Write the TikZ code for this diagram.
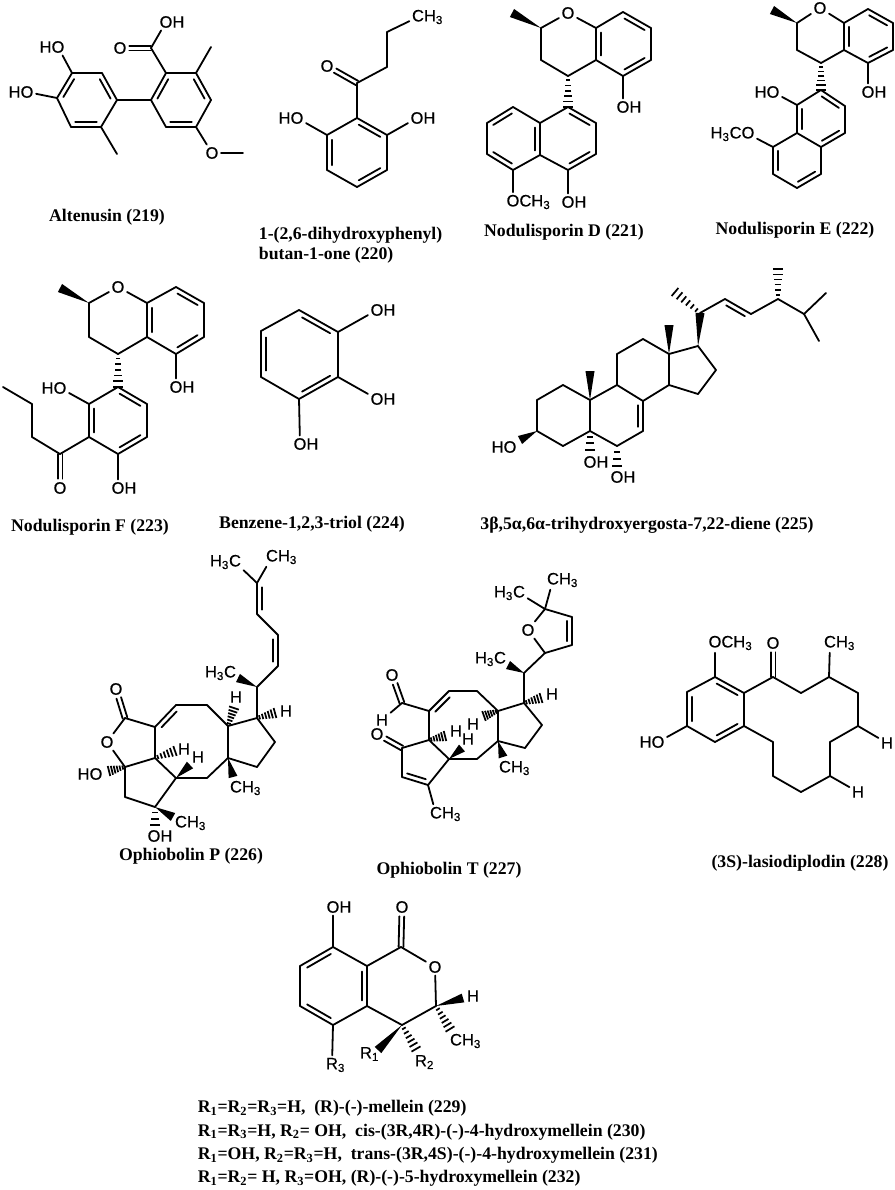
\documentclass[tikz,border=0pt]{standalone}
\usepackage{fontspec}
\setmainfont{Liberation Serif}
\newfontfamily\atomfamily[FakeBold=0.3]{Liberation Sans}
\usetikzlibrary{calc}

% atom labels, centred on their first atom
\newcommand{\lOH}{O\rlap{H}}
\newcommand{\lHO}{\llap{H}O}
\newcommand{\lCH}{C\rlap{H\textsubscript{3}}}
\newcommand{\lHC}{\llap{H\textsubscript{3}}C}
\newcommand{\lOCH}{O\rlap{CH\textsubscript{3}}}
\newcommand{\lHCO}{\llap{H\textsubscript{3}C}O}
\newcommand{\rs}[1]{R\textsubscript{#1}}

\newcommand{\atoms}[2]{\foreach \i/\x/\y in {#2} \coordinate (#1\i) at (\x,\y);}
\newcommand{\labels}[2]{\foreach \i/\x/\y/\s in {#2} \node[atom] (#1\i) at (\x,\y) {\s};}
\newcommand{\bonds}[2]{\foreach \i/\j in {#2} \draw (#1\i) -- (#1\j);}
\newcommand{\dbonds}[2]{\foreach \i/\j in {#2} {
  \draw (#1\i) -- (#1\j);
  \draw ($(#1\i)!.14!(#1\j)!3.7pt!90:(#1\j)$) -- ($(#1\j)!.14!(#1\i)!3.7pt!-90:(#1\i)$);}}
\newcommand{\cobonds}[2]{\foreach \i/\j in {#2} {
  \draw[shorten >=7pt] ($(#1\i)!1.8pt!90:(#1\j.center)$) -- ($(#1\j.center)!1.8pt!-90:(#1\i)$);
  \draw[shorten >=7pt] ($(#1\i)!1.8pt!-90:(#1\j.center)$) -- ($(#1\j.center)!1.8pt!90:(#1\i)$);}}
\newcommand{\wedges}[2]{\foreach \i/\j in {#2}
  \fill (#1\i) -- ($(#1\j)!3.4pt!90:(#1\i)$) -- ($(#1\j)!3.4pt!-90:(#1\i)$) -- cycle;}
% #3: where the strokes of a hashed bond lie along it
\newcommand{\hashset}[3]{\foreach \i/\j in {#2} {
  \coordinate (l0) at ($(#1\i)!1.2pt!90:(#1\j)$);
  \coordinate (r0) at ($(#1\i)!1.2pt!-90:(#1\j)$);
  \coordinate (l1) at ($(#1\j)!3.9pt!-90:(#1\i)$);
  \coordinate (r1) at ($(#1\j)!3.9pt!90:(#1\i)$);
  \foreach \p in {#3}
    \draw[line width=1.3pt,line cap=butt] ($(l0)!\p!(l1)$) -- ($(r0)!\p!(r1)$);}}
\newcommand{\hashes}[2]{\hashset{#1}{#2}{.14,.31,.48,.65,.82,1}}
\newcommand{\shorthash}[2]{\hashset{#1}{#2}{.3,.65,1}}

\tikzset{
  atom/.style={font=\atomfamily\fontsize{12.4}{12.4}\selectfont,inner sep=1.3pt},
  caption/.style={font=\fontsize{13.3}{15}\selectfont\bfseries,inner sep=0pt}
}

\begin{document}
\begin{tikzpicture}[x=.75pt,y=-.75pt,line width=1.35pt,line cap=round,line join=round]
  \useasboundingbox (0,0) rectangle (895,1190);

  % altenusin
  \atoms{a}{1/72/73,2/102/73,3/117/100,4/101/127,5/71/127,6/57/98,7/117/154,8/151/100,9/166/73,
    10/196/73,11/211/100,12/196/127,13/166/127,14/211/47,15/151/48,16/243/153}
  \labels{a}{o1/58/47/\lHO,o2/27/92/\lHO,o3/120/48/O,o4/166/22/\lOH,o5/212/153/O}
  \bonds{a}{1/2,3/4,5/6,1/o1,6/o2,4/7,3/8,8/13,9/10,11/12,10/14,9/15,15/o4,12/o5,o5/16}
  \dbonds{a}{1/6,3/2,5/4,9/8,11/10,13/12}
  \cobonds{a}{15/o3}
  \node[caption] (acap) at (107,217) {Altenusin (219)};

  % dihydroxyphenyl butanone
  \atoms{b}{1/357/118,2/387/135,3/387/170,4/357/187,5/327/170,6/327/135,7/357/83,8/387/67,9/387/32}
  \labels{b}{o1/327/66/O,o2/297/118/\lHO,o3/417/118/\lOH,c1/418/17/\lCH}
  \bonds{b}{2/3,4/5,6/1,1/7,7/8,8/9,9/c1,6/o2,2/o3}
  \dbonds{b}{2/1,4/3,6/5}
  \cobonds{b}{7/o1}
  \node[caption,anchor=west,align=left] (bcap) at (258,245) {1-(2,6-dihydroxyphenyl)\\butan-1-one (220)};

  % nodulisporin D
  \atoms{c}{1/541/28,2/541/60,3/568/76,4/596/60,5/596/28,6/623/12,7/651/28,8/651/60,9/623/76,10/512/13,
    11/568/107,12/596/123,13/596/154,14/568/170,15/540/155,16/540/123,17/513/107,18/487/123,19/487/154,20/513/170}
  \labels{c}{o1/568/13/O,o2/623/107/\lOH,o3/513/202/\lOCH,o4/568/202/\lOH}
  \bonds{c}{1/o1,o1/5,1/2,2/3,3/4,5/6,7/8,9/4,9/o2,12/13,14/15,16/11,16/17,18/19,20/15,20/o3,14/o4}
  \dbonds{c}{5/4,7/6,9/8,12/11,14/13,15/16,17/18,19/20}
  \wedges{c}{1/10}
  \hashes{c}{3/11}
  \node[caption] (ccap) at (564,232) {Nodulisporin D (221)};

  % nodulisporin E
  \atoms{d}{1/797/23,2/797/50,3/821/63,4/844/50,5/844/23,6/868/9,7/893/23,8/893/50,9/868/63,10/772/10,
    11/821/90,12/845/106,13/845/133,14/821/147,15/797/133,16/797/105,17/821/174,18/797/188,19/773/174,20/773/147}
  \labels{d}{o1/820/8/O,o2/868/92/\lOH,o3/773/92/\lHO,o4/748/134/\lHCO}
  \bonds{d}{1/o1,o1/5,1/2,2/3,3/4,5/6,7/8,9/4,9/o2,12/13,14/15,16/11,16/o3,14/17,18/19,20/15,20/o4}
  \dbonds{d}{5/4,7/6,9/8,12/11,14/13,16/15,18/17,20/19}
  \wedges{d}{1/10}
  \hashes{d}{3/11}
  \node[caption] (dcap) at (795,230) {Nodulisporin E (222)};

  % nodulisporin F
  \atoms{e}{1/89/303,2/89/337,3/118/354,4/147/337,5/147/303,6/176/287,7/204/303,8/204/337,9/176/354,10/60/288,
    11/118/387,12/147/404,13/147/437,14/118/454,15/89/437,16/89/404,17/60/454,18/32/437,19/32/404,20/3/387}
  \labels{e}{o1/118/287/O,o2/176/387/\lOH,o3/60/388/\lHO,o4/118/488/\lOH,o5/60/488/O}
  \bonds{e}{1/o1,o1/5,1/2,2/3,3/4,5/6,7/8,9/4,9/o2,12/13,14/15,16/11,16/o3,14/o4,15/17,17/18,18/19,19/20}
  \dbonds{e}{5/4,7/6,9/8,12/11,14/13,16/15}
  \cobonds{e}{17/o5}
  \wedges{e}{1/10}
  \hashes{e}{3/11}
  \node[caption] (ecap) at (90,527) {Nodulisporin F (223)};

  % benzenetriol
  \atoms{f}{1/299/310,2/338/332,3/338/377,4/299/399,5/261/377,6/261/331}
  \labels{f}{o1/377/310/\lOH,o2/377/399/\lOH,o3/300/444/\lOH}
  \bonds{f}{2/3,4/5,6/1,2/o1,3/o2,4/o3}
  \dbonds{f}{2/1,4/3,6/5}
  \node[caption] (fcap) at (312,524) {Benzene-1,2,3-triol (224)};

  % ergostadiene
  \atoms{g}{1/563/385,2/537/400,3/537/431,4/563/446,5/590/431,6/590/400,7/617/385,8/643/401,9/643/431,10/617/446,
    11/617/354,12/643/339,13/669/354,14/669/385,15/698/394,16/716/370,17/698/346,18/590/371,19/669/325,20/700/313,
    21/675/292,22/725/299,23/751/314,24/778/299,25/778/269,26/804/314,27/826/293,28/819/341,29/520/440,30/590/450,31/617/466}
  \labels{g}{o1/510/447/\lHO,o2/590/462/\lOH,o3/617/477/\lOH}
  \bonds{g}{1/2,2/3,3/4,4/5,5/6,6/1,6/7,7/8,9/10,10/5,7/11,11/12,12/13,13/14,14/8,14/15,15/16,16/17,17/13,
    20/22,23/24,24/26,26/27,26/28}
  \dbonds{g}{9/8,23/22}
  \wedges{g}{6/18,13/19,17/20,3/29}
  \hashes{g}{20/21,24/25}
  \shorthash{g}{5/30,10/31}
  \node[caption] (gcap) at (647,525) {3β,5α,6α-trihydroxyergosta-7,22-diene (225)};

  % ophiobolin P
  \atoms{h}{1/257/583,2/257/614,3/278/635,4/278/666,5/257/687,6/238/678,7/257/718,8/275/713,9/275/742,10/257/767,
    11/228/758,12/228/726,13/234/708,14/207/705,15/176/705,16/155/727,17/155/758,18/176/778,19/207/778,20/233/777,
    21/125/718,22/125/767,23/175/751,24/190/765,25/109/771,26/125/797,27/155/807,28/173/817,29/155/825}
  \labels{h}{c1/235/562/\lHC,c2/272/557/\lCH,c3/230/673/\lHC,h1/286/711/H,h2/236/697/H,o1/116/689/O,o2/107/742/O,
    c4/236/788/\lCH,h3/184/749/H,h4/198/757/H,o3/96/774/\lHO,c5/181/823/\lCH,o4/154/836/\lOH}
  \bonds{h}{1/c1,1/c2,2/3,4/5,5/7,7/12,7/9,9/10,10/11,11/12,12/14,14/15,16/17,17/18,18/19,19/11,
    16/21,21/o2,o2/22,22/17,22/26,26/27,27/18}
  \dbonds{h}{1/2,4/3,15/16}
  \cobonds{h}{21/o1}
  \wedges{h}{5/6,11/20,18/24,27/28}
  \hashes{h}{7/8,12/13,17/23,22/25}
  \shorthash{h}{27/29}
  \node[caption] (hcap) at (191,856) {Ophiobolin P (226)};

  % ophiobolin T
  \atoms{i}{1/545/609,2/545/653,3/572/645,4/572/617,5/524/673,6/508/665,7/524/703,8/541/698,9/542/725,10/525/748,
    11/498/741,12/498/711,13/484/716,14/477/691,15/449/691,16/429/711,17/429/740,18/449/759,19/477/759,20/503/757,
    21/402/703,23/402/748,24/402/777,25/428/785,27/445/736,28/462/748}
  \labels{i}{c1/519/593/\lHC,c2/553/580/\lCH,o1/528/630/O,c3/500/659/\lHC,h1/552/694/H,h2/473/724/H,o2/392/675/O,
    h3/382/720/H,o3/377/734/O,h4/456/731/H,h5/468/739/H,c4/505/768/\lCH,c5/436/814/\lCH}
  \bonds{i}{1/c1,1/c2,1/o1,o1/2,1/4,3/2,2/5,5/7,7/9,9/10,10/11,11/12,12/7,12/14,14/15,16/17,17/18,18/19,19/11,
    16/21,21/h3,17/23,23/24,25/18,25/c5}
  \dbonds{i}{3/4,15/16,24/25}
  \cobonds{i}{21/o2,23/o3}
  \wedges{i}{5/6,11/20,18/28}
  \hashes{i}{7/8,12/13,17/27}
  \node[caption] (icap) at (449,870) {Ophiobolin T (227)};

  % lasiodiplodin
  \atoms{j}{1/715/677,2/744/693,3/744/726,4/715/742,5/687/726,6/687/692,7/773/677,8/801/693,9/829/677,10/858/693,
    11/858/726,12/830/742,13/830/776,14/801/792,15/773/776,16/773/742}
  \labels{j}{o1/715/643/\lOCH,o2/658/742/\lHO,o3/773/643/O,c1/830/643/\lCH,h1/887/743/H,h2/858/792/H}
  \bonds{j}{2/3,4/5,6/1,1/o1,5/o2,2/7,7/8,8/9,9/c1,9/10,10/11,11/12,12/13,13/14,14/15,15/16,16/3,11/h1,13/h2}
  \dbonds{j}{2/1,4/3,6/5}
  \cobonds{j}{7/o3}
  \node[caption] (jcap) at (800,863) {(3S)-lasiodiplodin (228)};

  % mellein
  \atoms{k}{1/333/947,2/300/966,3/300/1006,4/333/1025,5/367/1006,6/367/966,7/401/947,8/436/1006,9/402/1025,
    10/463/998,11/450/1029,12/378/1050,13/416/1049}
  \labels{k}{o1/333/907/\lOH,o2/402/907/O,o3/435/967/O,h1/473/996/H,c1/456/1041/\lCH,
    r1/366/1054/R\rlap{\textsubscript{1}},r2/421/1062/R\rlap{\textsubscript{2}},r3/332/1065/R\rlap{\textsubscript{3}}}
  \bonds{k}{1/6,2/3,4/5,6/7,7/o3,o3/8,8/9,9/5,1/o1,4/r3}
  \dbonds{k}{1/2,3/4,5/6}
  \cobonds{k}{7/o2}
  \wedges{k}{8/10,9/12}
  \hashes{k}{8/11,9/13}
  \node[caption,anchor=west,align=left,font=\fontsize{13.3}{17.6}\selectfont\bfseries] (kcap) at (197,1143.5)
    {\rs{1}=\rs{2}=\rs{3}=H,~ (R)-(-)-mellein (229)\\
     \rs{1}=\rs{3}=H, \rs{2}= OH,~ cis-(3R,4R)-(-)-4-hydroxymellein (230)\\
     \rs{1}=OH, \rs{2}=\rs{3}=H,~ trans-(3R,4S)-(-)-4-hydroxymellein (231)\\
     \rs{1}=\rs{2}= H, \rs{3}=OH, (R)-(-)-5-hydroxymellein (232)};
\end{tikzpicture}
\end{document}
